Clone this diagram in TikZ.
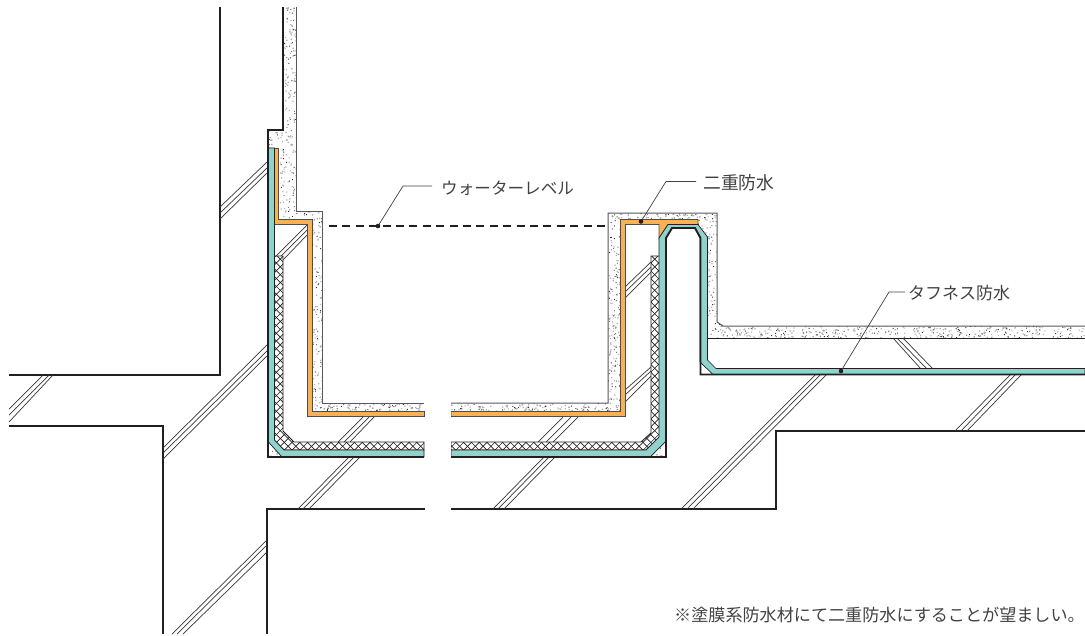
\documentclass[tikz,border=0pt]{standalone}
\usepackage{fontspec}
\newfontfamily\jpfont{Noto Sans CJK JP}
\definecolor{tealc}{RGB}{143,211,205}
\definecolor{orangec}{RGB}{247,178,86}
\definecolor{inkc}{RGB}{35,31,32}
\tikzset{
  frameline/.style={draw=inkc,line width=1.9pt,line join=miter},
  thinline/.style={draw=inkc!75,line width=1pt},
  breakline/.style={draw=inkc!90,line width=0.7pt},
  tealshape/.style={fill=tealc,draw=inkc,line width=0.7pt},
  orangeshape/.style={fill=orangec,draw=inkc!80,line width=0.8pt},
  hatchshape/.style={draw=inkc,line width=0.9pt},
  leader/.style={draw=inkc!85,line width=0.7pt},
  jplabel/.style={font=\jpfont\fontsize{16.6}{18}\selectfont,text=inkc!85,inner sep=0pt},
  blackdot/.style={fill=inkc}
}
\newcommand{\threelines}[6]{%
  \draw[breakline] (#1) -- (#2);
  \draw[breakline] (#3) -- (#4);
  \draw[breakline] (#5) -- (#6);
}
\newcommand{\stipbox}[5]{%
  \fill[inkc!90] foreach \i in {1,...,#5} {({#1+#3*rnd},{#2+#4*rnd}) rectangle +(0.9,0.9)};
  \fill[inkc!35] foreach \i in {1,...,#5} {({#1+#3*rnd},{#2+#4*rnd}) rectangle +(1.2,1.2)};
}
\newcommand{\crosshatch}{%
  \foreach \k in {0,...,110} {
    \draw[inkc,line width=0.65pt] ({-150+7.8*\k},250) -- ++(260,260);
  }
  \foreach \k in {-30,...,70} {
    \draw[inkc,line width=0.65pt] ({750+7.8*\k},0) -- ++(-520,520);
  }
}
\begin{document}
\begin{tikzpicture}[x=1pt,y=-1pt]
\pgfmathsetseed{4242}
\useasboundingbox (0,0) rectangle (1085,635);
\fill[white] (0,0) rectangle (1085,635);

% structural outlines
\draw[frameline] (220,7) -- (220,375) -- (9,375);
\draw[frameline] (9,426) -- (163,426) -- (163,634);
\draw[frameline] (267,634) -- (267,509) -- (776,509) -- (776,431) -- (1085,431);

% break lines in the concrete
\threelines{220,207}{267,162}{220,213}{267,168}{220,219}{267,173}
\threelines{9,409}{43,375}{9,415}{49,375}{9,422}{53,375}
\threelines{163,448}{268,344}{163,453}{268,350}{163,459}{268,355}
\threelines{172,634}{267,540}{177,634}{267,545}{183,634}{267,552}
\threelines{307,225}{274,258}{307,230}{278,259}{307,235}{283,260}
\threelines{363,417}{338,442}{369,417}{344,442}{374,417}{350,442}
\threelines{348,458}{298,509}{353,458}{303,509}{359,458}{309,509}
\threelines{563,417}{538,442}{571,417}{546,442}{578,417}{553,442}
\threelines{543,458}{493,509}{548,458}{498,509}{554,458}{504,509}
\threelines{625,287}{651,262}{625,292}{651,267}{625,298}{651,272}
\threelines{625,390}{651,367}{625,395}{651,371}{625,402}{651,376}
\threelines{815,375}{681,509}{820,375}{687,509}{826,375}{693,509}
\threelines{893,338}{921,369}{897,338}{927,369}{903,338}{933,369}
\threelines{1010,375}{955,431}{1015,375}{961,431}{1021,375}{967,431}

% stippled mortar, left
\begin{scope}
\clip (283,7) -- (296,7) -- (296,211) -- (322,211) -- (322,403) -- (424,403) -- (424,412) -- (312,412) -- (312,220) -- (278,220) -- (278,148) -- (268,148) -- (268,130) -- (283,130) -- cycle;
\stipbox{268}{7}{28}{213}{190}
\stipbox{296}{211}{26}{201}{160}
\stipbox{322}{403}{102}{9}{50}
\end{scope}
% stippled mortar, right
\begin{scope}
\clip (451,403) -- (608,403) -- (608,213) -- (717,213) -- (717,322) -- (723,326) -- (1085,326) -- (1085,338) -- (707,338) -- (707,237) -- (698,225) -- (698,220) -- (621,220) -- (621,412) -- (451,412) -- cycle;
\stipbox{451}{403}{157}{9}{75}
\stipbox{608}{213}{13}{199}{100}
\stipbox{621}{213}{96}{7}{40}
\stipbox{698}{220}{19}{118}{70}
\stipbox{717}{322}{368}{16}{270}
\end{scope}
% stippled corner triangles
\begin{scope}
\clip (268,441) -- (282,457) -- (268,457) -- cycle;
\stipbox{268}{441}{14}{16}{4}
\end{scope}
\begin{scope}
\clip (666,441) -- (666,457) -- (650,457) -- cycle;
\stipbox{650}{441}{16}{16}{8}
\end{scope}

% mortar outlines
\draw[thinline] (296,7) -- (296,211) -- (322,211) -- (322,403) -- (424,403);
\draw[thinline] (451,403) -- (608,403) -- (608,213) -- (717,213) -- (717,322) -- (723,326) -- (1085,326);
\draw[draw=inkc,line width=1pt] (707,338) -- (1085,338);
\draw[frameline] (283,7) -- (283,130) -- (268,130) -- (268,457) -- (424,457);

% hatched protection layer
\begin{scope}
\clip (274,256) -- (283,256) -- (283,431) -- (294,442) -- (424,442) -- (424,450) -- (284,450) -- (274,440) -- cycle;
\fill[white] (260,240) rectangle (430,460);
\crosshatch
\end{scope}
\draw[hatchshape] (274,256) -- (283,256) -- (283,431) -- (294,442) -- (424,442) -- (424,450) -- (284,450) -- (274,440) -- cycle;
\begin{scope}
\clip (451,442) -- (641,442) -- (651,433) -- (651,256) -- (659.5,256) -- (659.5,437) -- (646,450) -- (451,450) -- cycle;
\fill[white] (445,240) rectangle (670,460);
\crosshatch
\end{scope}
\draw[hatchshape] (451,442) -- (641,442) -- (651,433) -- (651,256) -- (659.5,256) -- (659.5,437) -- (646,450) -- (451,450) -- cycle;

% orange membranes
\draw[orangeshape] (274,148) -- (278.5,148) -- (278.5,219) -- (312.5,219) -- (312.5,411.5) -- (424,411.5) -- (424,416.5) -- (307.5,416.5) -- (307.5,224.5) -- (274,224.5) -- cycle;
\draw[orangeshape] (451,411.5) -- (620.5,411.5) -- (620.5,219.5) -- (698,219.5) -- (698,224.5) -- (668,224.5) -- (659,238) -- (659,224.5) -- (625.5,224.5) -- (625.5,416.5) -- (451,416.5) -- cycle;

% teal membranes
\draw[tealshape] (267.5,148) -- (274.5,148) -- (274.5,440) -- (284,450) -- (424,450) -- (424,457) -- (282,457) -- (267.5,441) -- cycle;
\draw[tealshape] (451,450) -- (646,450) -- (659,437) -- (659,238) -- (668,224.5) -- (698,224.5) -- (707.5,237) -- (707.5,360) -- (716,368.5) -- (1085,368.5) -- (1085,374.5) -- (713,374.5) -- (700,362) -- (700,238) -- (695,228) -- (672,228) -- (666,238) -- (666,441) -- (650,457) -- (451,457) -- cycle;

% heavy frame lines
\draw[frameline] (268,130) -- (268,457) -- (424,457);
\draw[frameline] (451,457) -- (666,457) -- (666,238) -- (672,228) -- (695,228) -- (700.5,238) -- (700.5,374.5) -- (1085,374.5);

% gap in the drawing
\fill[white] (424.5,398) rectangle (450.5,515);

% water level
\draw[draw=inkc,line width=1.3pt,dash pattern=on 8pt off 5.4pt] (329,226) -- (607,226);

% labels and leaders
\node[jplabel,anchor=west] (tw) at (441,188.5) {ウォーターレベル};
\node[jplabel,anchor=west,font=\jpfont\fontsize{17.8}{18}\selectfont] (tn) at (703,183) {二重防水};
\node[jplabel,anchor=west,font=\jpfont\fontsize{17}{18}\selectfont] (tt) at (908,293) {タフネス防水};
\node[jplabel,anchor=west,font=\jpfont\fontsize{17.1}{18}\selectfont] (tn2) at (674,614.5) {※塗膜系防水材にて二重防水にすることが望ましい。};
\coordinate (wd) at (378,226);
\coordinate (wk) at (403,186);
\coordinate (we) at (432,186);
\coordinate (nd) at (641,221.5);
\coordinate (nk) at (666,181.5);
\coordinate (ne) at (696,181.5);
\coordinate (td) at (841,371);
\coordinate (tk) at (889,292);
\coordinate (te) at (905,292);
\draw[leader] (wd) -- (wk) -- (we);
\draw[leader] (nd) -- (nk) -- (ne);
\draw[leader] (td) -- (tk) -- (te);
\fill[blackdot] (wd) circle (2.3);
\fill[blackdot] (nd) circle (2.3);
\fill[blackdot] (td) circle (2.3);
\end{tikzpicture}
\end{document}
